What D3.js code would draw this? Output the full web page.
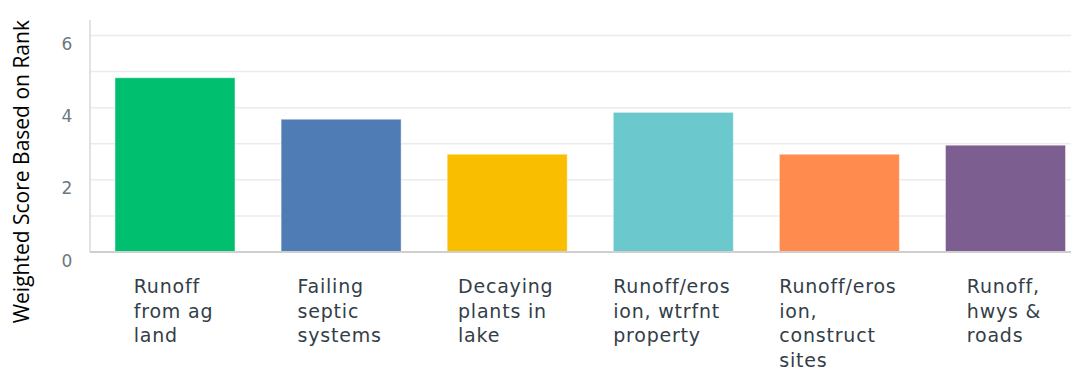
<!DOCTYPE html>
<html lang="en">
<head>
  <meta charset="UTF-8">
  <title>Weighted Score Based on Rank</title>
  <script src="https://d3js.org/d3.v7.min.js"></script>
  <style>
    body { margin: 0; background: #fff; }
    .cat-label { font-family: "DejaVu Sans", sans-serif; font-size: 19px; letter-spacing: 0.8px; fill: #333e48; }
    .tick-label { font-family: "DejaVu Sans", sans-serif; font-size: 17px; fill: #6b787f; }
    .y-title { font-family: "Open Sans", sans-serif; font-size: 21px; fill: #000; }
  </style>
</head>
<body>
<script>
  // categories, values and colours
  const categories = [
    ['Runoff', 'from ag', 'land'],
    ['Failing', 'septic', 'systems'],
    ['Decaying', 'plants in', 'lake'],
    ['Runoff/eros', 'ion, wtrfnt', 'property'],
    ['Runoff/eros', 'ion,', 'construct', 'sites'],
    ['Runoff,', 'hwys &', 'roads']
  ];
  const scores = [4.83, 3.68, 2.71, 3.87, 2.71, 2.96];
  const colors = ['#00bf6f', '#507cb6', '#f9be00', '#6bc8cd', '#ff8b4f', '#7d5e90'];
  const gridValues = [1, 2, 3, 4, 5, 6];
  const tickValues = [0, 2, 4, 6];

  const svgWidth = 1071;
  const svgHeight = 370;
  const left = 90, baseY = 252, topY = 20;

  const svg = d3.select('body').append('svg')
    .attr('width', svgWidth)
    .attr('height', svgHeight);

  const x = d3.scaleBand()
    .domain(d3.range(scores.length))
    .range([left, 1090.5])
    .paddingInner(0.2775)
    .paddingOuter(0.1505);

  const y = d3.scaleLinear()
    .domain([0, 6.43])
    .range([baseY, topY]);

  // gridlines
  svg.append('g')
    .selectAll('line')
    .data(gridValues)
    .enter().append('line')
    .attr('x1', left)
    .attr('x2', svgWidth)
    .attr('y1', d => y(d))
    .attr('y2', d => y(d))
    .attr('stroke', '#ebebeb')
    .attr('stroke-width', 1.5);

  // left axis line
  svg.append('line')
    .attr('x1', left).attr('x2', left)
    .attr('y1', topY).attr('y2', baseY)
    .attr('stroke', '#d9d9d9')
    .attr('stroke-width', 1.5);

  // tick labels
  svg.append('g')
    .selectAll('text')
    .data(tickValues)
    .enter().append('text')
    .attr('class', 'tick-label')
    .attr('x', 67)
    .attr('y', d => y(d) + 14.6)
    .attr('text-anchor', 'middle')
    .text(d => d);

  // bars
  svg.append('g')
    .selectAll('rect')
    .data(scores)
    .enter().append('rect')
    .attr('x', (d, i) => x(i))
    .attr('y', d => y(d))
    .attr('width', x.bandwidth())
    .attr('height', d => baseY - y(d))
    .attr('fill', (d, i) => colors[i])
    .attr('stroke', 'rgba(255,255,255,0.45)')
    .attr('stroke-width', 1);

  // baseline
  svg.append('line')
    .attr('x1', left).attr('x2', svgWidth)
    .attr('y1', baseY).attr('y2', baseY)
    .attr('stroke', '#cfcfcf')
    .attr('stroke-width', 2);

  // category labels: left-aligned block centred under each bar
  categories.forEach((lines, i) => {
    const g = svg.append('g');
    const txt = g.append('text').attr('class', 'cat-label');
    lines.forEach((line, j) => {
      txt.append('tspan')
        .attr('x', 0)
        .attr('y', 293 + j * 24.5)
        .text(line);
    });
    let w = 0;
    txt.selectAll('tspan').each(function () {
      w = Math.max(w, this.getComputedTextLength());
    });
    const cx = x(i) + x.bandwidth() / 2 - 1.5;
    g.attr('transform', `translate(${cx - w / 2},0)`);
  });

  // y axis title
  svg.append('text')
    .attr('class', 'y-title')
    .attr('transform', 'translate(29,171.7) rotate(-90)')
    .attr('text-anchor', 'middle')
    .text('Weighted Score Based on Rank');
</script>
</body>
</html>
